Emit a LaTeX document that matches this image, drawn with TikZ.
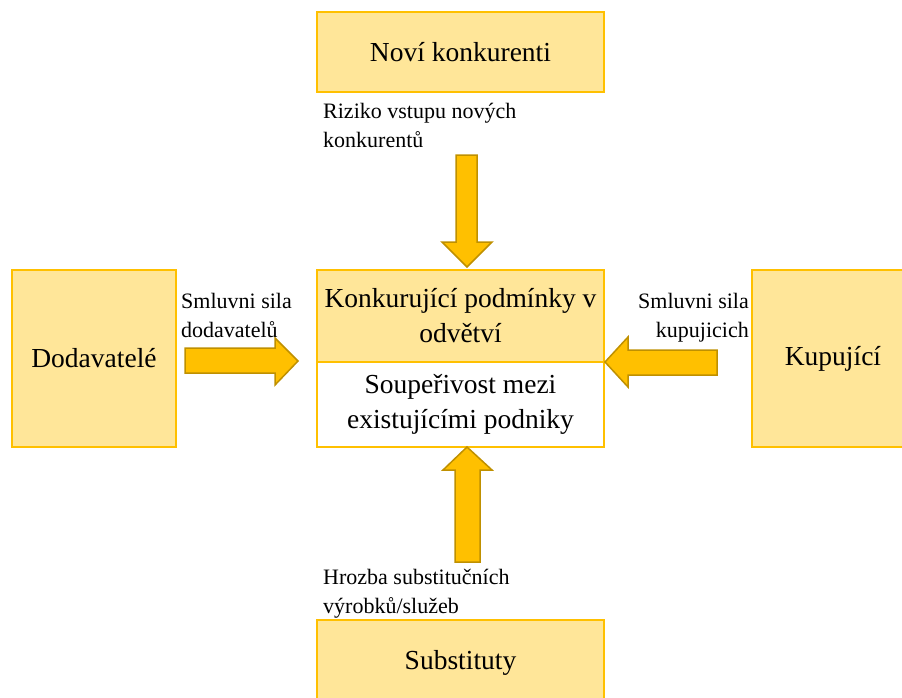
\documentclass[tikz,border=0pt]{standalone}
\usepackage{fontspec}
\setmainfont{Liberation Serif}
\definecolor{boxfill}{HTML}{FFE699}
\definecolor{boxline}{HTML}{FFC000}
\definecolor{arrfill}{HTML}{FFC000}
\definecolor{arrline}{HTML}{BF9000}
\tikzset{
  box/.style={draw=boxline, line width=2.5pt, fill=boxfill, inner sep=2pt,
    align=center, font=\fontsize{27.5}{35}\selectfont},
  whitebox/.style={box, fill=white},
  lbl/.style={inner sep=0pt, font=\fontsize{22}{29}\selectfont},
  barrow/.style={draw=arrline, line width=1.5pt, fill=arrfill, line join=miter},
}
\begin{document}
\begin{tikzpicture}[x=1pt,y=-1pt]
\useasboundingbox (0,0) rectangle (902,697);
% boxes
\node[box, minimum width=287, minimum height=80] (nk) at (460.5,52) {Noví konkurenti};
\node[box, minimum width=287, minimum height=92] (cond) at (460.5,316) {Konkurující podmínky v\\odvětví};
\node[whitebox, minimum width=287, minimum height=85] (riv) at (460.5,404.5) {Soupeřivost mezi\\existujícími podniky};
\node[box, minimum width=164, minimum height=177] (dod) at (94,358.5) {Dodavatelé};
\node[box, minimum width=162, minimum height=177] (kup) at (833,358.5) {Kupující};
\node[box, minimum width=287, minimum height=86] (sub) at (460.5,663) {Substituty};
% block arrows
\draw[barrow] (456,155) -- (477,155) -- (477,242) -- (492,242) -- (467,267) -- (442,242) -- (456,242) -- cycle;
\draw[barrow] (185,348) -- (275,348) -- (275,338) -- (298,361) -- (275,385) -- (275,373) -- (185,373) -- cycle;
\draw[barrow] (717,350) -- (628,350) -- (628,337) -- (605,362) -- (628,387) -- (628,375) -- (717,375) -- cycle;
\draw[barrow] (455,562) -- (480,562) -- (480,470) -- (492,470) -- (467,447) -- (443,470) -- (455,470) -- cycle;
% labels (base anchor = last line)
\node[lbl, anchor=base west, align=left] (l1) at (323,147) {Riziko vstupu nových\\konkurentů};
\node[lbl, anchor=base west, align=left] (l2) at (181,337) {Smluvni sila\\dodavatelů};
\node[lbl, anchor=base east, align=right] (l3) at (749,337) {Smluvni sila\\kupujicich};
\node[lbl, anchor=base west, align=left] (l4) at (323,613) {Hrozba substitučních\\výrobků/služeb};
\end{tikzpicture}
\end{document}
